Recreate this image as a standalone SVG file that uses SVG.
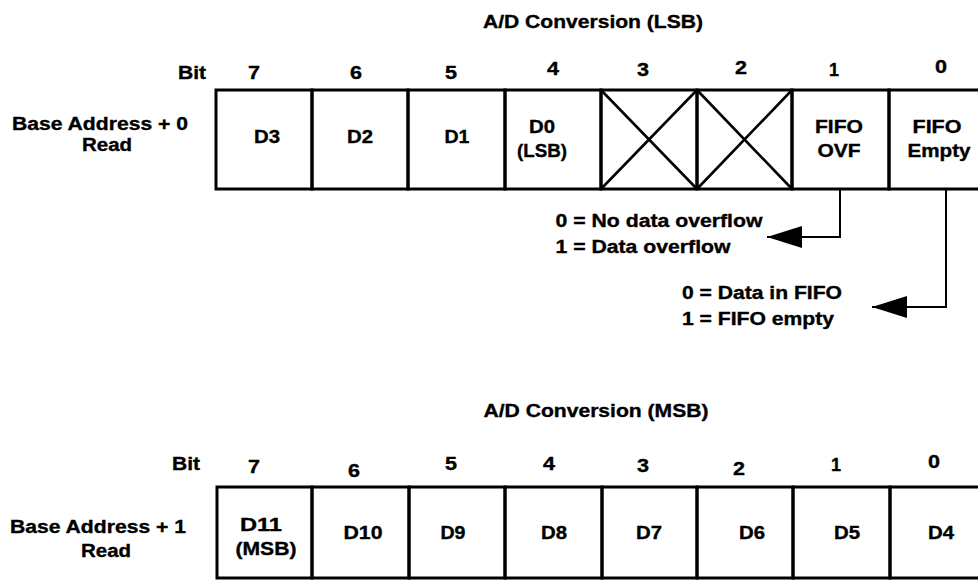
<svg xmlns="http://www.w3.org/2000/svg" width="978" height="581" viewBox="0 0 978 581">
  <style>
    text { font-family: "Liberation Sans", Arial, Helvetica, sans-serif; font-weight: bold; font-size: 18px; fill: #000; stroke: #000; stroke-width: 0.35; text-anchor: middle; }
    .cell { fill: none; stroke: #000; stroke-width: 3; }
    .void { stroke: #000; stroke-width: 2.6; fill: none; }
    .wire { fill: none; stroke: #000; stroke-width: 2; }
  </style>
  <defs>
    <marker id="arrow" markerUnits="userSpaceOnUse" markerWidth="36" markerHeight="22" refX="35" refY="11" orient="auto">
      <path d="M0,0 L35,11 L0,22 Z" fill="#000"/>
    </marker>
  </defs>
  <rect width="978" height="581" fill="#fff"/>

  <!-- Register: Base Address + 0 (A/D conversion, LSB) -->
  <g id="title-lsb">
    <text x="593" y="28" textLength="220" lengthAdjust="spacingAndGlyphs">A/D Conversion (LSB)</text>
  </g>
  <g id="bits-lsb">
    <text x="192" y="79" textLength="28" lengthAdjust="spacingAndGlyphs">Bit</text>
    <text x="254" y="79" textLength="12" lengthAdjust="spacingAndGlyphs">7</text>
    <text x="356" y="79" textLength="12" lengthAdjust="spacingAndGlyphs">6</text>
    <text x="451" y="79" textLength="12" lengthAdjust="spacingAndGlyphs">5</text>
    <text x="553" y="75" textLength="12" lengthAdjust="spacingAndGlyphs">4</text>
    <text x="643" y="76" textLength="12" lengthAdjust="spacingAndGlyphs">3</text>
    <text x="741" y="74" textLength="12" lengthAdjust="spacingAndGlyphs">2</text>
    <text x="834" y="76" textLength="10" lengthAdjust="spacingAndGlyphs">1</text>
    <text x="941" y="73" textLength="12" lengthAdjust="spacingAndGlyphs">0</text>
  </g>
  <g id="addr-0">
    <text x="100" y="130" textLength="176" lengthAdjust="spacingAndGlyphs">Base Address + 0</text>
    <text x="107" y="151" textLength="50" lengthAdjust="spacingAndGlyphs">Read</text>
  </g>
  <g id="lsb-bit7">
    <rect class="cell" x="216" y="90" width="96" height="99"/>
    <text x="267" y="143" textLength="26" lengthAdjust="spacingAndGlyphs">D3</text>
  </g>
  <g id="lsb-bit6">
    <rect class="cell" x="312" y="90" width="96" height="99"/>
    <text x="360" y="143" textLength="26" lengthAdjust="spacingAndGlyphs">D2</text>
  </g>
  <g id="lsb-bit5">
    <rect class="cell" x="408" y="90" width="97" height="99"/>
    <text x="457" y="143" textLength="25" lengthAdjust="spacingAndGlyphs">D1</text>
  </g>
  <g id="lsb-bit4">
    <rect class="cell" x="505" y="90" width="96" height="99"/>
    <text x="542" y="133" textLength="26" lengthAdjust="spacingAndGlyphs">D0</text>
    <text x="542" y="157" textLength="50" lengthAdjust="spacingAndGlyphs">(LSB)</text>
  </g>
  <g id="lsb-bit3">
    <rect class="cell" x="601" y="90" width="96" height="99"/>
    <path class="void" d="M601,90 L697,189 M697,90 L601,189"/>
  </g>
  <g id="lsb-bit2">
    <rect class="cell" x="697" y="90" width="95" height="99"/>
    <path class="void" d="M697,90 L792,189 M792,90 L697,189"/>
  </g>
  <g id="lsb-bit1">
    <rect class="cell" x="792" y="90" width="97" height="99"/>
    <text x="839" y="133" textLength="48" lengthAdjust="spacingAndGlyphs">FIFO</text>
    <text x="839" y="157" textLength="43" lengthAdjust="spacingAndGlyphs">OVF</text>
  </g>
  <g id="lsb-bit0">
    <rect class="cell" x="889" y="90" width="100" height="99"/>
    <text x="937" y="133" textLength="49" lengthAdjust="spacingAndGlyphs">FIFO</text>
    <text x="939" y="157" textLength="63" lengthAdjust="spacingAndGlyphs">Empty</text>
  </g>

  <!-- Status flag legends -->
  <g id="ovf-legend">
    <text x="659" y="227" textLength="207" lengthAdjust="spacingAndGlyphs">0 = No data overflow</text>
    <text x="643" y="253" textLength="175" lengthAdjust="spacingAndGlyphs">1 = Data overflow</text>
  </g>
  <g id="empty-legend">
    <text x="762" y="299" textLength="160" lengthAdjust="spacingAndGlyphs">0 = Data in FIFO</text>
    <text x="758" y="325" textLength="152" lengthAdjust="spacingAndGlyphs">1 = FIFO empty</text>
  </g>

  <g id="connectors">
    <path class="wire" d="M840,189 V237 H767" marker-end="url(#arrow)"/>
    <path class="wire" d="M946,189 V307 H872" marker-end="url(#arrow)"/>
  </g>

  <!-- Register: Base Address + 1 (A/D conversion, MSB) -->
  <g id="title-msb">
    <text x="596" y="417" textLength="225" lengthAdjust="spacingAndGlyphs">A/D Conversion (MSB)</text>
  </g>
  <g id="bits-msb">
    <text x="186" y="470" textLength="28" lengthAdjust="spacingAndGlyphs">Bit</text>
    <text x="254" y="473" textLength="12" lengthAdjust="spacingAndGlyphs">7</text>
    <text x="354" y="477" textLength="12" lengthAdjust="spacingAndGlyphs">6</text>
    <text x="451" y="470" textLength="12" lengthAdjust="spacingAndGlyphs">5</text>
    <text x="549" y="470" textLength="12" lengthAdjust="spacingAndGlyphs">4</text>
    <text x="643" y="472" textLength="12" lengthAdjust="spacingAndGlyphs">3</text>
    <text x="739" y="475" textLength="12" lengthAdjust="spacingAndGlyphs">2</text>
    <text x="836" y="471" textLength="10" lengthAdjust="spacingAndGlyphs">1</text>
    <text x="934" y="468" textLength="12" lengthAdjust="spacingAndGlyphs">0</text>
  </g>
  <g id="addr-1">
    <text x="98" y="533" textLength="176" lengthAdjust="spacingAndGlyphs">Base Address + 1</text>
    <text x="106" y="557" textLength="50" lengthAdjust="spacingAndGlyphs">Read</text>
  </g>
  <g id="msb-bit7">
    <rect class="cell" x="217" y="487" width="95" height="91"/>
    <text x="261" y="531" textLength="42" lengthAdjust="spacingAndGlyphs">D11</text>
    <text x="266" y="555" textLength="61" lengthAdjust="spacingAndGlyphs">(MSB)</text>
  </g>
  <g id="msb-bit6">
    <rect class="cell" x="312" y="487" width="97" height="91"/>
    <text x="363" y="539" textLength="39" lengthAdjust="spacingAndGlyphs">D10</text>
  </g>
  <g id="msb-bit5">
    <rect class="cell" x="409" y="487" width="96" height="91"/>
    <text x="453" y="539" textLength="25" lengthAdjust="spacingAndGlyphs">D9</text>
  </g>
  <g id="msb-bit4">
    <rect class="cell" x="505" y="487" width="97" height="91"/>
    <text x="554" y="539" textLength="26" lengthAdjust="spacingAndGlyphs">D8</text>
  </g>
  <g id="msb-bit3">
    <rect class="cell" x="602" y="487" width="95" height="91"/>
    <text x="649" y="539" textLength="26" lengthAdjust="spacingAndGlyphs">D7</text>
  </g>
  <g id="msb-bit2">
    <rect class="cell" x="697" y="487" width="96" height="91"/>
    <text x="752" y="539" textLength="26" lengthAdjust="spacingAndGlyphs">D6</text>
  </g>
  <g id="msb-bit1">
    <rect class="cell" x="793" y="487" width="97" height="91"/>
    <text x="847" y="539" textLength="26" lengthAdjust="spacingAndGlyphs">D5</text>
  </g>
  <g id="msb-bit0">
    <rect class="cell" x="890" y="487" width="100" height="91"/>
    <text x="941" y="539" textLength="26" lengthAdjust="spacingAndGlyphs">D4</text>
  </g>
</svg>
